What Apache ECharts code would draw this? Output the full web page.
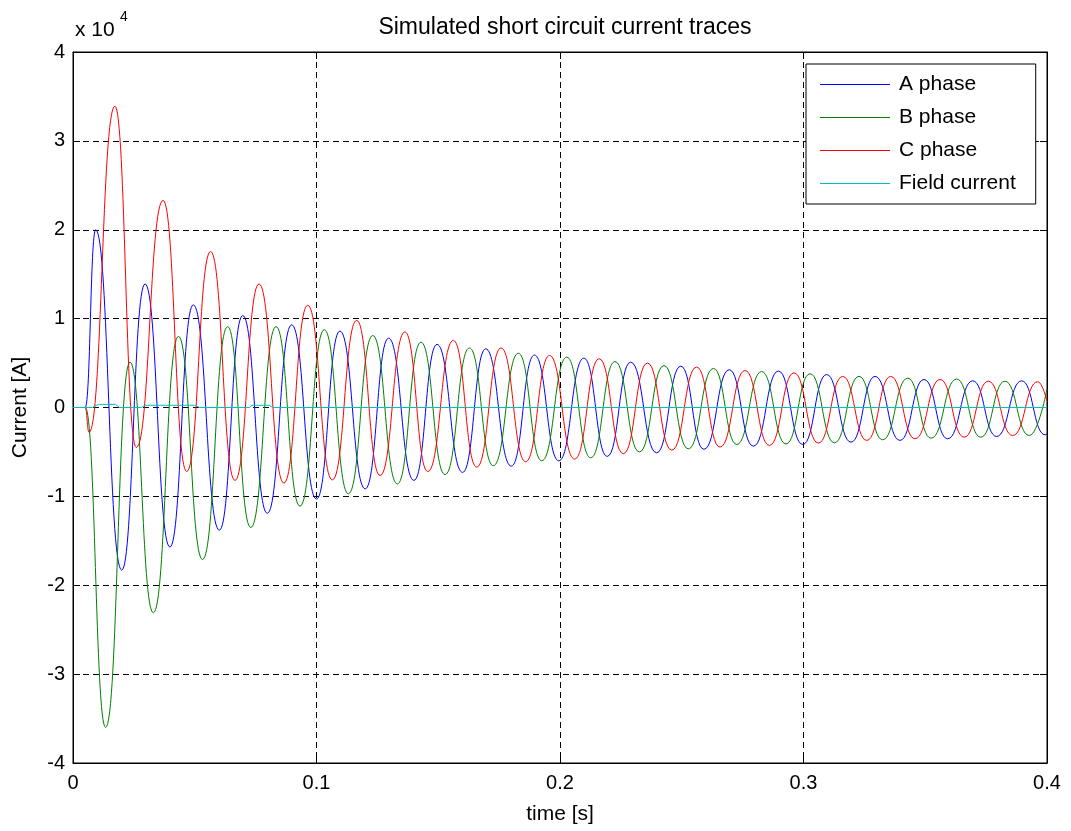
<!DOCTYPE html>
<html>
<head>
<meta charset="utf-8">
<script src="https://cdn.jsdelivr.net/npm/echarts@6/dist/echarts.min.js"></script>
<style>
html,body{margin:0;padding:0;background:#fff;}
#chart{width:1071px;height:831px;}
</style>
</head>
<body>
<div id="chart"></div>
<script>
// Values, current in units of 1e4 A, time in s.
// Each trace is given by its turning points (peaks / troughs).
const xTicks = [0, 0.1, 0.2, 0.3, 0.4];
const yTicks = [-4, -3, -2, -1, 0, 1, 2, 3, 4];
const seriesNames = ['A phase', 'B phase', 'C phase', 'Field current'];

const phaseA = [[0,0],[0.005,0],[0.0093,2.0],[0.0200,-1.83],[0.0296,1.39],[0.0398,-1.57],[0.0494,1.155],[0.0601,-1.38],[0.0697,1.035],[0.0798,-1.19],[0.0898,0.93],[0.1,-1.03],[0.1096,0.86],[0.12,-0.915],[0.1296,0.78],[0.14,-0.82],[0.1495,0.71],[0.16,-0.73],[0.1695,0.66],[0.18,-0.66],[0.1895,0.59],[0.1995,-0.60],[0.2098,0.555],[0.2194,-0.55],[0.2290,0.51],[0.2397,-0.51],[0.2496,0.465],[0.2591,-0.47],[0.2695,0.425],[0.2794,-0.435],[0.2897,0.41],[0.2997,-0.416],[0.3095,0.371],[0.3195,-0.39],[0.3294,0.35],[0.3396,-0.37],[0.3495,0.315],[0.3592,-0.352],[0.3695,0.30],[0.3793,-0.326],[0.3896,0.30],[0.3992,-0.307],[0.4,-0.30]];

const phaseB = [[0,0],[0.005,0],[0.0134,-3.6],[0.0234,0.51],[0.0330,-2.31],[0.0433,0.80],[0.0532,-1.71],[0.0635,0.91],[0.0730,-1.35],[0.0834,0.91],[0.0932,-1.11],[0.1032,0.875],[0.1131,-0.97],[0.1231,0.81],[0.1332,-0.86],[0.1429,0.735],[0.1528,-0.755],[0.1628,0.67],[0.1726,-0.655],[0.1829,0.61],[0.1925,-0.60],[0.2028,0.566],[0.2126,-0.566],[0.2226,0.517],[0.2326,-0.50],[0.2427,0.472],[0.2527,-0.465],[0.2630,0.44],[0.2726,-0.416],[0.2828,0.405],[0.2928,-0.41],[0.3027,0.38],[0.3127,-0.397],[0.3228,0.35],[0.3325,-0.363],[0.3428,0.33],[0.3524,-0.345],[0.3629,0.32],[0.3728,-0.334],[0.3827,0.296],[0.3927,-0.315],[0.4,0.21]];

const phaseC = [[0,0],[0.005,0],[0.0066,-0.28],[0.0172,3.39],[0.0260,-0.45],[0.0370,2.33],[0.0467,-0.72],[0.0565,1.755],[0.0665,-0.82],[0.0764,1.39],[0.0866,-0.85],[0.0964,1.15],[0.1065,-0.815],[0.1165,0.98],[0.1261,-0.765],[0.1363,0.85],[0.1457,-0.72],[0.1562,0.755],[0.1658,-0.67],[0.1758,0.67],[0.1859,-0.61],[0.1957,0.585],[0.2060,-0.58],[0.2161,0.548],[0.2260,-0.52],[0.2359,0.50],[0.2459,-0.48],[0.2561,0.455],[0.2657,-0.445],[0.2760,0.416],[0.2860,-0.427],[0.2961,0.39],[0.3061,-0.40],[0.3161,0.35],[0.3260,-0.37],[0.3358,0.35],[0.3458,-0.352],[0.3561,0.315],[0.3660,-0.334],[0.3759,0.296],[0.3859,-0.315],[0.3962,0.29],[0.4,0.07]];

const fieldCurrent = [[0,0],[0.008,0],[0.0095,0.025],[0.011,0.035],[0.0175,0.035],[0.019,0],[0.028,0],[0.0295,0.025],[0.050,0.025],[0.052,0],[0.0725,0],[0.0735,0.025],[0.0805,0.025],[0.082,0],[0.4,0]];

const colors = ['#0000ff', '#008000', '#ff0000', '#00bfbf'];
const FONT = '"Liberation Sans", Arial, Helvetica, sans-serif';

const chart = echarts.init(document.getElementById('chart'), null, {renderer: 'canvas'});

function waveSeries(name, data, color, smooth) {
  return {
    name: name, type: 'line', data: data,
    showSymbol: false, symbol: 'none',
    smooth: smooth, smoothMonotone: 'x',
    lineStyle: {color: color, width: 1},
    itemStyle: {color: color},
    emphasis: {disabled: true},
    animation: false,
    xAxisIndex: 0, yAxisIndex: 0
  };
}

const tickCommon = {show: true, inside: true, length: 7, lineStyle: {color: '#000'}};

const option = {
  backgroundColor: '#fff',
  animation: false,
  textStyle: {fontFamily: FONT},
  title: {
    text: 'Simulated short circuit current traces',
    left: 560, top: 11, textAlign: 'center',
    textStyle: {fontFamily: FONT, fontSize: 23, fontWeight: 'normal', color: '#000'}
  },
  grid: {left: 73, right: 24, top: 52, bottom: 68, show: true, borderColor: '#000', borderWidth: 1, backgroundColor: '#fff'},
  legend: {
    data: seriesNames,
    orient: 'vertical',
    left: 806, top: 64,
    backgroundColor: '#fff', borderColor: '#000', borderWidth: 1,
    padding: [10, 20, 10, 14],
    itemGap: 12, itemWidth: 70, itemHeight: 1,
    icon: 'rect',
    textStyle: {fontFamily: FONT, fontSize: 21, color: '#000', padding: [0, 0, 0, 4]}
  },
  xAxis: [{
    type: 'value', min: 0, max: 0.4, interval: 0.1, position: 'bottom',
    axisLine: {show: true, onZero: false, lineStyle: {color: '#000'}},
    axisTick: tickCommon,
    axisLabel: {fontFamily: FONT, fontSize: 20, color: '#000', margin: 10,
      formatter: v => String(xTicks.find(t => Math.abs(t - v) < 1e-9) ?? v)},
    splitLine: {show: true, lineStyle: {color: '#000', type: [6, 4], width: 1}},
    name: 'time [s]', nameLocation: 'middle', nameGap: 41,
    nameTextStyle: {fontFamily: FONT, fontSize: 21, color: '#000'}
  }, {
    type: 'value', min: 0, max: 0.4, interval: 0.1, position: 'top',
    axisLine: {show: true, onZero: false, lineStyle: {color: '#000'}},
    axisTick: tickCommon, axisLabel: {show: false}, splitLine: {show: false}
  }],
  yAxis: [{
    type: 'value', min: -4, max: 4, interval: 1, position: 'left',
    axisLine: {show: true, onZero: false, lineStyle: {color: '#000'}},
    axisTick: tickCommon,
    axisLabel: {fontFamily: FONT, fontSize: 20, color: '#000', margin: 8,
      formatter: v => String(yTicks.find(t => Math.abs(t - v) < 1e-9) ?? v)},
    splitLine: {show: true, lineStyle: {color: '#000', type: [6, 4], width: 1}},
    name: 'Current [A]', nameLocation: 'middle', nameGap: 42,
    nameTextStyle: {fontFamily: FONT, fontSize: 21, color: '#000'}
  }, {
    type: 'value', min: -4, max: 4, interval: 1, position: 'right',
    axisLine: {show: true, onZero: false, lineStyle: {color: '#000'}},
    axisTick: tickCommon, axisLabel: {show: false}, splitLine: {show: false}
  }],
  graphic: [
    {type: 'text', left: 75, top: 20, style: {text: 'x 10', fontFamily: FONT, fontSize: 21, fill: '#000'}},
    {type: 'text', left: 120, top: 10, style: {text: '4', fontFamily: FONT, fontSize: 14, fill: '#000'}}
  ],
  series: [
    waveSeries(seriesNames[0], phaseA, colors[0], 0.5),
    waveSeries(seriesNames[1], phaseB, colors[1], 0.5),
    waveSeries(seriesNames[2], phaseC, colors[2], 0.5),
    waveSeries(seriesNames[3], fieldCurrent, colors[3], false)
  ]
};
chart.setOption(option);
</script>
</body>
</html>
